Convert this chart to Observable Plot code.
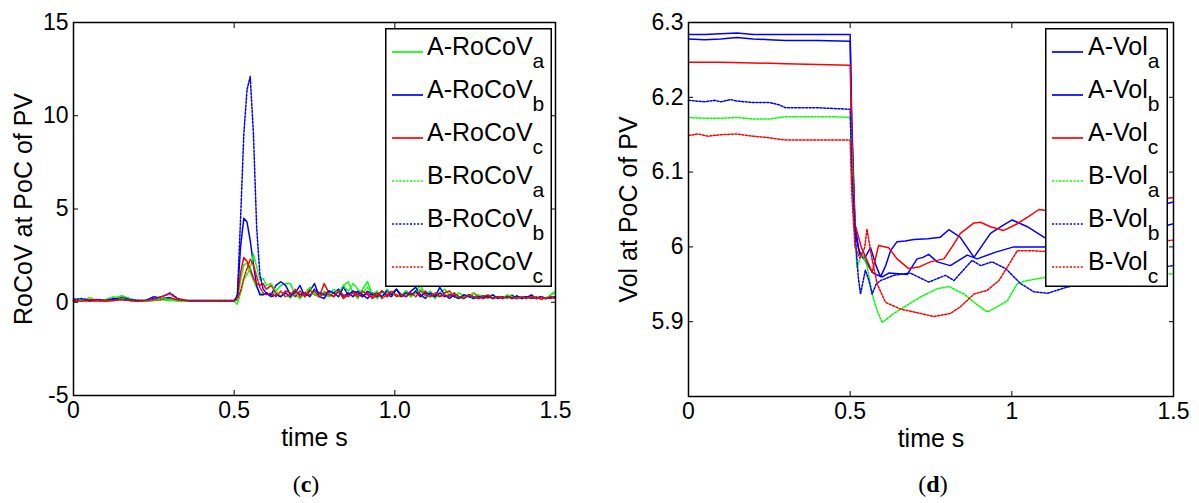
<!DOCTYPE html>
<html><head><meta charset="utf-8">
<script src="https://cdn.jsdelivr.net/npm/d3@7"></script>
<script src="https://cdn.jsdelivr.net/npm/@observablehq/plot@0.6"></script>
<style>
body{margin:0;background:#fff;}
#wrap{position:relative;width:1199px;height:503px;overflow:hidden;background:#fff;}
.panel{position:absolute;top:0;}
.cap{position:absolute;top:471px;font-family:"Liberation Serif","Times New Roman",serif;font-size:24px;color:#000;transform:translateX(-50%);}
</style></head><body>
<div id="wrap"></div>
<script>
// ---------------- Panel (c): RoCoV ----------------
const tC = [0,0.025,0.05,0.075,0.1,0.125,0.15,0.175,0.2,0.225,0.25,0.275,0.3,0.325,0.35,0.375,0.4,0.425,0.45,0.475,0.5,
  0.51,0.52,0.53,0.54,0.55,0.56,0.57,0.58,0.59,0.6,
  0.615,0.63,0.645,0.66,0.675,0.69,0.705,0.72,0.735,0.75,
  0.765,0.78,0.795,0.81,0.825,0.84,0.855,0.87,0.885,0.9,
  0.915,0.93,0.945,0.96,0.975,0.99,1.005,1.02,1.035,1.05,
  1.065,1.08,1.095,1.11,1.125,1.14,1.155,1.17,1.185,1.2,
  1.215,1.23,1.245,1.26,1.275,1.29,1.305,1.32,1.335,1.35,
  1.365,1.38,1.395,1.41,1.425,1.44,1.455,1.47,1.485,1.5];
const cA_a = [0.1,0.15,0.1,0.12,0.1,0.2,0.35,0.2,0.1,0.1,0.12,0.15,0.1,0.1,0.1,0.1,0.1,0.1,0.1,0.1,0.1,
  0.1,1.2,2.0,2.1,1.6,1.2,0.8,0.5,0.4,0.5,
  0.3,0.6,0.9,1.0,1.0,0.4,0.2,0.5,0.3,0.6,
  0.3,0.4,0.3,0.5,0.3,0.9,1.1,0.5,0.2,0.7,
  1.1,0.4,0.2,0.6,0.3,0.5,0.7,0.3,0.5,0.3,
  0.6,0.9,0.4,0.6,0.3,0.5,0.7,0.4,0.3,0.5,
  0.3,0.4,0.2,0.4,0.3,0.2,0.4,0.2,0.3,0.2,
  0.4,0.2,0.3,0.2,0.3,0.2,0.3,0.2,0.4,0.6];
const cA_b = [0.1,0.1,0.12,0.1,0.1,0.15,0.25,0.15,0.1,0.1,0.3,0.2,0.25,0.1,0.1,0.1,0.1,0.1,0.1,0.1,0.1,
  0.3,3.0,4.5,4.3,3.3,2.0,0.9,0.4,0.4,0.5,
  0.4,0.9,1.1,0.9,0.4,0.5,0.9,0.3,0.6,1.0,
  0.3,0.2,0.6,0.5,0.7,0.3,0.5,0.3,0.6,0.4,
  0.2,0.5,0.3,0.6,0.4,0.3,0.7,0.4,0.3,0.6,
  0.8,0.4,0.2,0.5,0.3,0.8,0.4,0.2,0.4,0.3,
  0.2,0.4,0.3,0.2,0.35,0.25,0.4,0.2,0.3,0.25,
  0.35,0.2,0.3,0.25,0.4,0.2,0.3,0.2,0.3,0.2];
const cA_c = [0.05,0.1,0.05,0.08,0.05,0.1,0.15,0.1,0.05,0.05,0.1,0.15,0.2,0.1,0.05,0.05,0.05,0.05,0.05,0.05,0.05,
  0.3,1.6,2.4,2.2,1.8,1.3,1.0,0.9,1.0,0.7,
  0.9,0.5,0.3,0.6,0.5,0.3,0.6,0.3,0.7,0.4,
  0.3,1.0,0.5,0.3,0.6,0.2,0.4,0.6,0.4,0.3,
  0.5,0.2,0.4,0.6,0.3,0.5,0.4,0.3,0.6,0.4,
  0.5,0.3,0.6,0.3,0.4,0.3,0.5,0.6,0.3,0.2,
  0.4,0.3,0.5,0.3,0.2,0.3,0.2,0.3,0.25,0.35,
  0.2,0.3,0.2,0.3,0.2,0.3,0.15,0.25,0.2,0.3];
const cB_a = [0.2,0.1,0.25,0.1,0.15,0.3,0.2,0.1,0.1,0.05,0.1,0.2,0.15,0.05,0.05,0.05,0.05,0.05,0.05,0.05,0.05,
  -0.1,0.5,1.2,1.5,1.8,2.6,1.9,1.2,1.3,0.9,
  1.0,0.6,0.3,0.5,0.2,0.6,0.3,0.5,0.8,0.4,
  0.3,0.6,0.4,0.7,0.5,0.9,0.6,1.0,0.7,0.5,
  0.8,0.4,0.6,0.3,0.7,0.5,0.3,0.4,0.6,0.3,
  0.5,0.7,0.3,0.4,0.2,0.5,0.3,0.4,0.5,0.2,
  0.4,0.3,0.5,0.2,0.3,0.4,0.2,0.3,0.2,0.4,
  0.3,0.2,0.3,0.2,0.3,0.2,0.3,0.2,0.4,0.5];
const cB_b = [0.15,0.2,0.1,0.15,0.1,0.2,0.15,0.1,0.1,0.1,0.2,0.3,0.5,0.2,0.1,0.05,0.05,0.05,0.05,0.05,0.05,
  0.4,4.5,9.0,11.4,12.1,9.0,4.0,1.5,0.7,0.5,
  0.3,0.4,0.3,0.5,0.3,0.6,0.4,0.5,0.3,0.7,
  0.5,0.4,0.6,0.5,0.3,0.8,0.4,0.6,0.5,0.3,
  0.6,0.4,0.5,0.3,0.6,0.4,0.7,0.3,0.5,0.4,
  0.6,0.3,0.5,0.4,0.3,0.5,0.3,0.4,0.3,0.2,
  0.4,0.3,0.2,0.3,0.25,0.35,0.2,0.3,0.2,0.3,
  0.2,0.35,0.2,0.3,0.25,0.2,0.3,0.2,0.25,0.3];
const cB_c = [0.1,0.05,0.15,0.1,0.1,0.1,0.15,0.1,0.05,0.1,0.15,0.3,0.45,0.15,0.1,0.05,0.05,0.05,0.05,0.05,0.05,
  0.2,0.6,1.3,1.8,2.3,2.0,1.4,0.8,0.5,0.4,
  0.5,0.3,0.6,0.3,0.4,0.7,0.3,0.5,0.4,0.6,
  0.3,0.5,0.4,0.3,0.6,0.4,0.3,0.5,0.3,0.6,
  0.4,0.3,0.5,0.2,0.4,0.6,0.3,0.4,0.3,0.5,
  0.3,0.6,0.4,0.3,0.5,0.3,0.4,0.3,0.5,0.3,
  0.2,0.4,0.3,0.2,0.3,0.4,0.2,0.3,0.2,0.3,
  0.25,0.2,0.3,0.2,0.3,0.2,0.25,0.2,0.3,0.2];
const cXTicks = [0, 0.5, 1.0, 1.5];
const cXTickLabels = ["0", "0.5", "1.0", "1.5"];
const cYTicks = [-5, 0, 5, 10, 15];

// ---------------- Panel (d): Vol ----------------
const dA_a_t = [0,0.05,0.1,0.15,0.2,0.3,0.4,0.5,0.505,0.515,0.527,0.545,0.563,0.58,0.594,0.61,0.625,0.645,0.67,0.697,0.74,0.779,0.805,0.84,0.883,0.91,0.934,0.97,1.001,1.048,1.099,1.2,1.3,1.4,1.5];
const dA_a_v = [6.284,6.284,6.285,6.286,6.284,6.284,6.284,6.284,6.17,6.03,5.995,5.985,5.999,5.975,5.960,5.975,5.995,6.007,6.008,6.010,6.011,6.013,6.023,6.013,5.986,6.003,6.018,6.028,6.036,6.027,6.013,6.0,6.01,6.02,6.031];
const dA_b_t = [0,0.05,0.1,0.15,0.2,0.25,0.3,0.4,0.5,0.505,0.515,0.53,0.55,0.568,0.585,0.6,0.619,0.65,0.676,0.707,0.725,0.743,0.769,0.81,0.862,0.893,0.95,1.006,1.05,1.099,1.2,1.3,1.4,1.5];
const dA_b_v = [6.278,6.277,6.278,6.280,6.278,6.277,6.276,6.276,6.275,6.15,6.02,5.99,5.98,5.966,5.962,5.960,5.965,5.964,5.963,5.984,5.986,5.990,5.980,5.975,5.989,5.984,5.993,6.0,6.0,6.0,6.01,6.03,6.05,6.06];
const dA_c_t = [0,0.1,0.2,0.3,0.4,0.5,0.505,0.515,0.535,0.552,0.568,0.588,0.619,0.645,0.681,0.712,0.748,0.79,0.815,0.841,0.883,0.903,0.934,0.975,1.017,1.05,1.084,1.1,1.2,1.3,1.4,1.5];
const dA_c_v = [6.247,6.247,6.246,6.245,6.244,6.243,6.15,6.03,5.999,5.982,5.966,6.002,5.999,5.984,5.971,5.973,5.980,5.984,6.0,6.018,6.032,6.033,6.027,6.022,6.031,6.040,6.050,6.049,6.05,6.055,6.06,6.066];
const dB_a_t = [0,0.05,0.1,0.15,0.2,0.25,0.3,0.35,0.4,0.45,0.5,0.505,0.512,0.521,0.537,0.552,0.568,0.583,0.599,0.635,0.676,0.717,0.769,0.805,0.852,0.883,0.924,0.955,0.986,1.017,1.048,1.099,1.2,1.3,1.4,1.5];
const dB_a_v = [6.173,6.172,6.172,6.173,6.171,6.171,6.174,6.174,6.174,6.174,6.173,6.12,6.03,5.973,5.991,5.975,5.937,5.915,5.899,5.911,5.922,5.933,5.944,5.947,5.937,5.926,5.913,5.920,5.928,5.951,5.955,5.959,5.96,5.962,5.963,5.964];
const dB_b_t = [0,0.05,0.08,0.1,0.13,0.15,0.2,0.25,0.28,0.3,0.4,0.5,0.505,0.515,0.525,0.532,0.547,0.558,0.568,0.58,0.594,0.635,0.686,0.743,0.795,0.821,0.877,0.903,0.939,0.981,1.027,1.068,1.11,1.161,1.25,1.35,1.45,1.5];
const dB_b_v = [6.196,6.194,6.196,6.194,6.197,6.195,6.193,6.193,6.190,6.186,6.186,6.184,6.1,6.02,5.96,5.937,5.969,5.955,5.937,5.95,5.955,5.962,5.965,5.953,5.962,5.955,5.982,5.975,5.980,5.971,5.951,5.940,5.938,5.945,5.955,5.965,5.972,5.975];
const dB_c_t = [0,0.03,0.06,0.1,0.15,0.2,0.25,0.28,0.3,0.4,0.5,0.505,0.515,0.53,0.545,0.552,0.565,0.583,0.609,0.655,0.707,0.759,0.81,0.841,0.883,0.924,0.96,0.986,1.017,1.058,1.099,1.2,1.3,1.4,1.5];
const dB_c_v = [6.149,6.151,6.148,6.150,6.151,6.148,6.146,6.144,6.143,6.143,6.143,6.07,6.0,5.985,5.999,6.024,5.99,5.951,5.926,5.917,5.912,5.907,5.911,5.920,5.937,5.942,5.955,5.973,5.995,5.995,5.994,6.0,6.003,6.006,6.009];
const dXTicks = [0, 0.5, 1, 1.5];
const dYTicks = [5.9, 6, 6.1, 6.2, 6.3];

const GREEN = "#00ff00", BLUE = "#0000ff", RED = "#ff0000";
const FONT = '"Liberation Sans", Arial, Helvetica, sans-serif';

const seriesC = [
  {name: "A-RoCoV", sub: "a", t: tC, v: cA_a, color: GREEN, dash: false},
  {name: "A-RoCoV", sub: "b", t: tC, v: cA_b, color: BLUE, dash: false},
  {name: "A-RoCoV", sub: "c", t: tC, v: cA_c, color: RED, dash: false},
  {name: "B-RoCoV", sub: "a", t: tC, v: cB_a, color: GREEN, dash: true},
  {name: "B-RoCoV", sub: "b", t: tC, v: cB_b, color: BLUE, dash: true},
  {name: "B-RoCoV", sub: "c", t: tC, v: cB_c, color: RED, dash: true}
];
const seriesD = [
  {name: "A-Vol", sub: "a", t: dA_a_t, v: dA_a_v, color: BLUE, dash: false},
  {name: "A-Vol", sub: "b", t: dA_b_t, v: dA_b_v, color: BLUE, dash: false},
  {name: "A-Vol", sub: "c", t: dA_c_t, v: dA_c_v, color: RED, dash: false},
  {name: "B-Vol", sub: "a", t: dB_a_t, v: dB_a_v, color: GREEN, dash: true},
  {name: "B-Vol", sub: "b", t: dB_b_t, v: dB_b_v, color: BLUE, dash: true},
  {name: "B-Vol", sub: "c", t: dB_c_t, v: dB_c_v, color: RED, dash: true}
];

const DASH = "2,1.6";
const H = 503;
const TICK_FS = 23, LABEL_FS = 25;

function makePanel(o) {
  const marks = [];
  for (const s of o.series) {
    const data = s.t.map((t, i) => ({t, v: s.v[i]}));
    marks.push(Plot.line(data, {x: "t", y: "v", stroke: s.color, strokeWidth: 1.5,
      strokeDasharray: s.dash ? DASH : undefined}));
  }
  marks.push(Plot.frame({stroke: "black", strokeWidth: 1.5}));
  // tick labels
  marks.push(Plot.axisX(o.xTicks, {anchor: "bottom", tickSize: 0, tickPadding: 6, tickFormat: o.xFmt, label: null, fontSize: TICK_FS}));
  marks.push(Plot.axisY(o.yTicks, {anchor: "left", tickSize: 0, tickPadding: 5, tickFormat: (d) => String(d), label: null, fontSize: TICK_FS}));
  // inward tick marks on all four sides
  marks.push(Plot.axisX(o.xTicks, {anchor: "bottom", tickSize: -5, fill: "none", strokeWidth: 1}));
  marks.push(Plot.axisX(o.xTicks, {anchor: "top", tickSize: -5, fill: "none", strokeWidth: 1}));
  marks.push(Plot.axisY(o.yTicks, {anchor: "left", tickSize: -5, fill: "none", strokeWidth: 1}));
  marks.push(Plot.axisY(o.yTicks, {anchor: "right", tickSize: -5, fill: "none", strokeWidth: 1}));
  // axis titles
  marks.push(Plot.text(["time s"], {frameAnchor: "bottom", dy: 42, fontSize: LABEL_FS, textAnchor: "middle", lineAnchor: "middle"}));
  marks.push(Plot.text([o.ylabel], {frameAnchor: "left", rotate: -90, dx: o.ylabelDx, fontSize: LABEL_FS, textAnchor: "middle", lineAnchor: "middle"}));
  return Plot.plot({
    width: o.width, height: H,
    marginLeft: o.ml, marginRight: o.mr, marginTop: 22, marginBottom: o.mb,
    x: {domain: [0, 1.5]},
    y: {domain: o.yDomain},
    style: {fontFamily: FONT, background: "white", color: "black", overflow: "visible"},
    marks
  });
}

function makeLegend(o) {
  const svg = d3.create("svg").attr("width", o.w).attr("height", o.h)
    .style("position", "absolute").style("left", o.left + "px").style("top", o.top + "px")
    .style("overflow", "visible");
  svg.append("rect").attr("x", 0.75).attr("y", 0.75).attr("width", o.w - 1.5).attr("height", o.h - 1.5)
    .attr("fill", "white").attr("stroke", "black").attr("stroke-width", 1.5);
  o.series.forEach((s, i) => {
    const base = 27 + 43 * i;
    svg.append("line").attr("x1", 7).attr("x2", 38).attr("y1", base - 3).attr("y2", base - 3)
      .attr("stroke", s.color).attr("stroke-width", 1.7)
      .attr("stroke-dasharray", s.dash ? DASH : null);
    const tx = svg.append("text").attr("x", o.textX).attr("y", base)
      .attr("font-family", FONT).attr("font-size", 25).attr("fill", "black");
    tx.append("tspan").text(s.name);
    tx.append("tspan").attr("dy", 13).attr("font-size", 21).text(s.sub);
  });
  return svg.node();
}

const wrap = document.getElementById("wrap");

const pc = makePanel({
  series: seriesC, width: 600, ml: 73, mr: 45, mb: H - 395,
  xTicks: cXTicks, xFmt: (d) => cXTickLabels[cXTicks.indexOf(d)],
  yTicks: cYTicks, yDomain: [-5, 15], ylabel: "RoCoV at PoC of PV", ylabelDx: -50
});
pc.classList.add("panel"); pc.style.left = "0px";
wrap.appendChild(pc);

const pd = makePanel({
  series: seriesD, width: 599, ml: 88, mr: 26, mb: H - 396,
  xTicks: dXTicks, xFmt: (d) => String(d),
  yTicks: dYTicks, yDomain: [5.8, 6.3], ylabel: "Vol at PoC of PV", ylabelDx: -60
});
pd.classList.add("panel"); pd.style.left = "600px";
wrap.appendChild(pd);

wrap.appendChild(makeLegend({series: seriesC, left: 385, top: 28, w: 167, h: 259, textX: 42}));
wrap.appendChild(makeLegend({series: seriesD, left: 1045, top: 28, w: 123, h: 259, textX: 43}));

const capC = document.createElement("div");
capC.className = "cap"; capC.style.left = "306px"; capC.innerHTML = "(<b>c</b>)";
wrap.appendChild(capC);
const capD = document.createElement("div");
capD.className = "cap"; capD.style.left = "933px"; capD.innerHTML = "(<b>d</b>)";
wrap.appendChild(capD);
</script></body></html>
